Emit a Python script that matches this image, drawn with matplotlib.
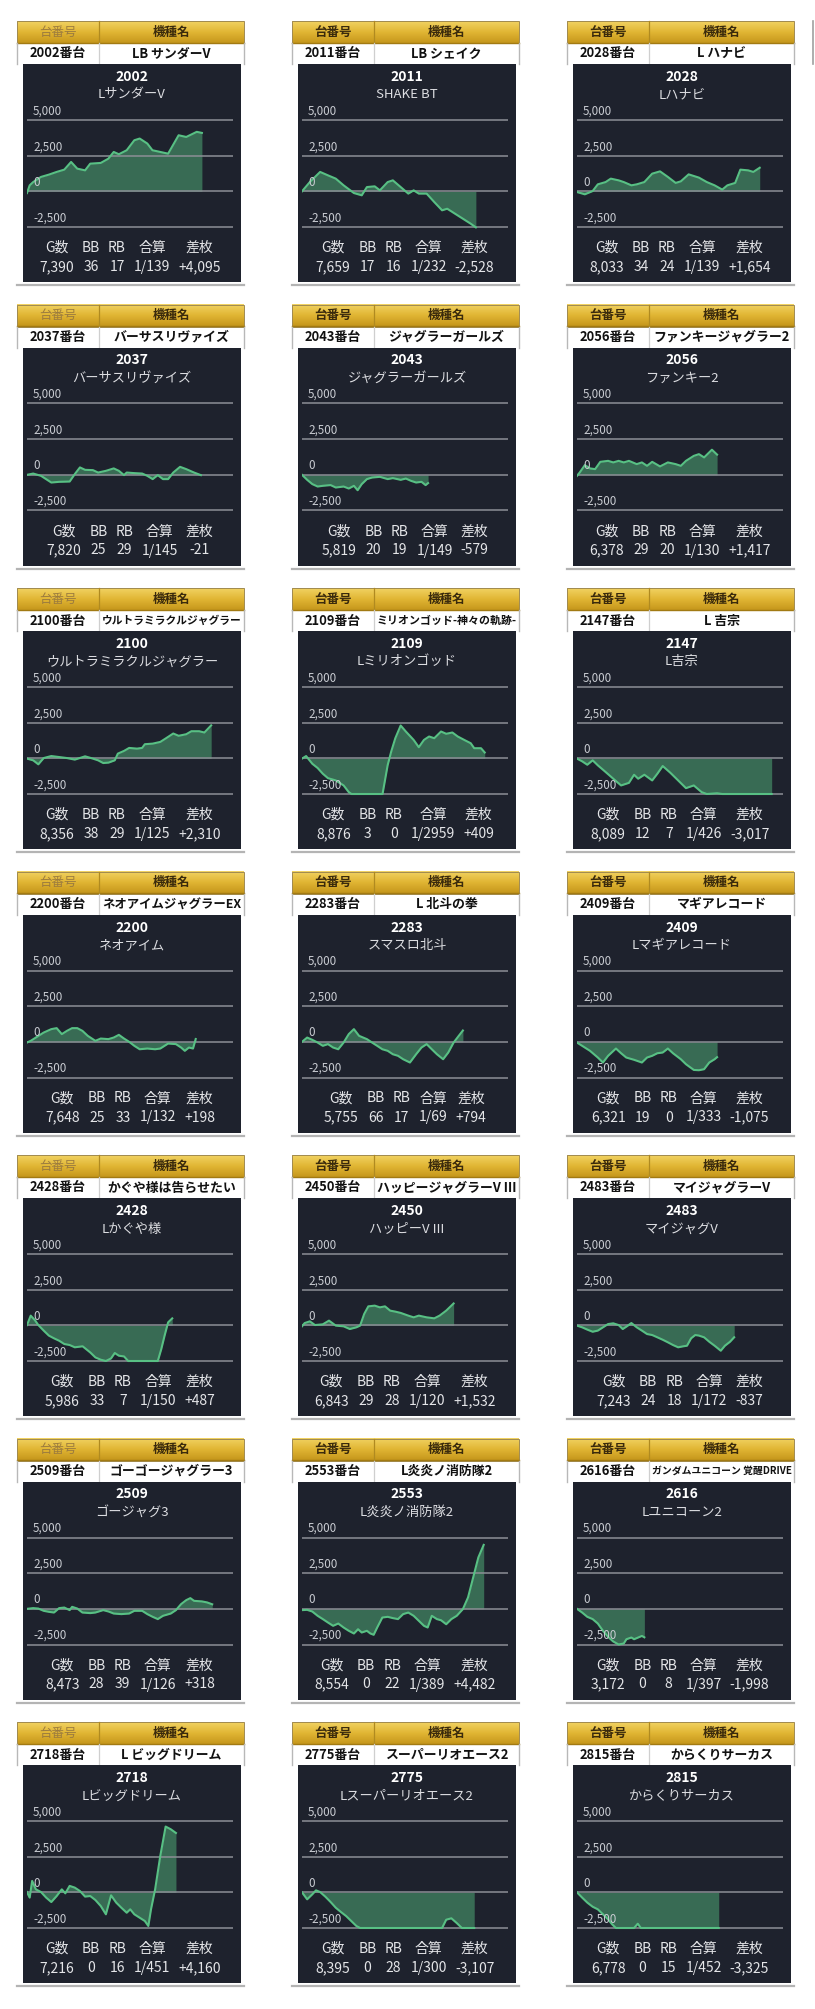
import numpy as np
import matplotlib
matplotlib.use("Agg")
import matplotlib.pyplot as plt
from matplotlib.colors import LinearSegmentedColormap
from matplotlib.patches import Rectangle

plt.rcParams["font.family"] = ["Noto Sans CJK JP", "DejaVu Sans"]

W, H = 815, 2009

# --- panel info -------------------------------------------------------------
numbers = [2002, 2011, 2028, 2037, 2043, 2056, 2100, 2109, 2147, 2200, 2283,
           2409, 2428, 2450, 2483, 2509, 2553, 2616, 2718, 2775, 2815]
header_names = ["LB サンダーV", "LB シェイク", "L ハナビ", "バーサスリヴァイズ",
                "ジャグラーガールズ", "ファンキージャグラー2", "ウルトラミラクルジャグラー",
                "ミリオンゴッド-神々の軌跡-", "L 吉宗", "ネオアイムジャグラーEX",
                "L 北斗の拳", "マギアレコード", "かぐや様は告らせたい",
                "ハッピージャグラーV III", "マイジャグラーV", "ゴーゴージャグラー3",
                "L炎炎ノ消防隊2", "ガンダムユニコーン 覚醒DRIVE", "L ビッグドリーム",
                "スーパーリオエース2", "からくりサーカス"]
chart_names = ["LサンダーV", "SHAKE BT", "Lハナビ", "バーサスリヴァイズ", "ジャグラーガールズ",
               "ファンキー2", "ウルトラミラクルジャグラー", "Lミリオンゴッド", "L吉宗",
               "ネオアイム", "スマスロ北斗", "Lマギアレコード", "Lかぐや様", "ハッピーV III",
               "マイジャグV", "ゴージャグ3", "L炎炎ノ消防隊2", "Lユニコーン2",
               "Lビッグドリーム", "Lスーパーリオエース2", "からくりサーカス"]
g_counts = [7390, 7659, 8033, 7820, 5819, 6378, 8356, 8876, 8089, 7648, 5755,
            6321, 5986, 6843, 7243, 8473, 8554, 3172, 7216, 8395, 6778]
bb_counts = [36, 17, 34, 25, 20, 29, 38, 3, 12, 25, 66, 19, 33, 29, 24, 28, 0, 0, 0, 0, 0]
rb_counts = [17, 16, 24, 29, 19, 20, 29, 0, 7, 33, 17, 0, 7, 28, 18, 39, 22, 8, 16, 28, 15]
gassan = [139, 232, 139, 145, 149, 130, 125, 2959, 426, 132, 69, 333, 150, 120,
          172, 126, 389, 397, 451, 300, 452]
samai = [4095, -2528, 1654, -21, -579, 1417, 2310, 409, -3017, 198, 794, -1075,
         487, 1532, -837, 318, 4482, -1998, 4160, -3107, -3325]

# --- graph series (x: % of the time axis, y: coins) -------------------------
x_2002 = [0, 1.3, 3.0, 6.8, 10.6, 14.4, 18.1, 21.4, 24.4, 28.2, 30.7, 35.8, 39.5,
          42.1, 44.6, 48.4, 52.1, 54.7, 58.4, 60.9, 64.7, 68.5, 73.6, 77.3, 82.4, 84.9]
y_2002 = [-120, 420, 650, 1010, 1170, 1360, 1520, 2060, 1590, 1470, 1940, 1990, 2290,
          2760, 2600, 2880, 3580, 3700, 3350, 2880, 2760, 2640, 3930, 3810, 4170, 4095]
x_2011 = [0, 3.8, 8.8, 12.6, 16.4, 20.2, 25.2, 29.0, 31.5, 35.3, 37.8, 41.6, 44.1,
          47.9, 51.6, 54.2, 56.7, 60.5, 64.2, 68.0, 70.5, 74.3, 78.1, 81.9, 84.4]
y_2011 = [0, 650, 1360, 1120, 890, 420, -120, -280, 300, 350, 70, 650, 770, 300,
          -160, 70, -160, -160, -750, -1330, -1220, -1570, -1920, -2270, -2528]
x_2028 = [0, 3.8, 7.6, 10.1, 13.9, 16.4, 20.2, 22.7, 26.4, 29.0, 32.7, 36.5, 40.3,
          44.1, 47.9, 50.4, 54.2, 59.2, 63.0, 66.8, 70.5, 73.0, 76.8, 79.3, 83.1, 85.6, 88.7]
y_2028 = [-50, -210, 20, 490, 650, 890, 770, 650, 420, 490, 650, 1240, 1400, 1010,
          590, 700, 1190, 960, 650, 420, 120, 420, 590, 1520, 1470, 1360, 1654]
x_2037 = [0, 3.0, 6.8, 11.8, 15.6, 20.7, 23.2, 25.7, 28.2, 32.0, 34.5, 38.3, 42.1,
          44.6, 47.1, 48.4, 52.1, 55.9, 58.4, 61.0, 63.5, 66.0, 68.5, 71.0, 74.3,
          77.3, 81.1, 84.4]
y_2037 = [0, 90, -70, -540, -490, -470, 50, 520, 350, 330, 160, 280, 450, 280, -20,
          160, 120, 90, -70, -300, -20, -300, -300, 160, 560, 400, 160, -21]
x_2043 = [0, 2.5, 5.0, 7.6, 10.1, 13.9, 16.4, 20.2, 22.7, 25.2, 27.0, 29.0, 31.5,
          34.0, 37.8, 41.6, 44.1, 47.9, 50.4, 52.9, 55.4, 58.0, 60.0, 61.2]
y_2043 = [0, -350, -650, -820, -770, -720, -890, -820, -960, -770, -1080, -650, -300,
          -190, -140, -300, -230, -350, -260, -420, -540, -490, -720, -579]
x_2056 = [0, 1.3, 3.8, 6.3, 8.8, 11.3, 15.1, 17.6, 20.2, 22.7, 25.2, 29.0, 31.5,
          34.0, 36.5, 40.3, 44.1, 47.9, 50.4, 52.9, 56.7, 59.2, 61.7, 65.5, 68.0]
y_2056 = [-70, 160, 680, 450, 400, 910, 980, 870, 980, 870, 980, 750, 870, 630, 910,
          590, 870, 750, 630, 980, 1330, 1450, 1220, 1760, 1417]
x_2100 = [0, 3.0, 5.5, 8.1, 11.8, 15.6, 19.4, 23.2, 28.2, 32.0, 34.5, 37.0, 39.6,
          42.6, 44.1, 47.1, 49.6, 53.4, 55.9, 57.2, 61.0, 64.7, 67.3, 71.0, 73.6,
          77.3, 79.8, 83.6, 86.1, 89.4]
y_2100 = [-20, -140, -420, 20, 160, 90, 20, -90, 140, -20, -140, -330, -300, -140,
          330, 520, 730, 680, 730, 990, 1030, 1150, 1390, 1740, 1580, 1690, 1900,
          1900, 1810, 2310]
x_2109 = [0, 2.0, 5.0, 7.6, 10.1, 12.6, 16.4, 20.2, 22.7, 24.0, 39.1, 41.6, 43.3,
          45.3, 47.9, 50.4, 54.2, 56.7, 59.2, 61.7, 64.2, 67.5, 70.0, 73.0, 75.6,
          79.3, 81.9, 83.6, 86.9, 88.7]
y_2109 = [-20, 160, -380, -680, -1080, -1390, -1550, -1900, -2370, -2500, -2500,
          -470, 470, 1410, 2300, 1880, 1290, 780, 1290, 1530, 1410, 1880, 1720, 1810,
          1530, 1250, 1060, 710, 710, 409]
x_2147 = [0, 2.5, 5.0, 7.6, 10.1, 13.9, 17.6, 21.4, 25.2, 27.7, 29.7, 32.7, 36.5,
          39.0, 41.6, 45.3, 49.1, 52.9, 56.7, 60.5, 63.0, 68.0, 70.5, 94.5]
y_2147 = [-20, -210, -450, -140, -490, -960, -1430, -1900, -1720, -1150, -1430,
          -1150, -1550, -1080, -540, -1010, -1550, -2090, -1900, -2370, -2500, -2450,
          -2500, -2500]
x_2200 = [0, 1.8, 4.3, 8.1, 11.8, 14.4, 16.9, 19.4, 21.9, 24.4, 26.9, 29.5, 33.2,
          35.8, 39.5, 42.1, 44.6, 47.1, 49.6, 52.1, 54.7, 58.4, 62.2, 64.7, 68.5,
          72.3, 74.8, 76.6, 78.6, 80.6, 81.9]
y_2200 = [-50, 70, 300, 650, 890, 960, 540, 770, 960, 960, 770, 420, 70, 230, 190,
          300, 490, 230, 0, -280, -520, -470, -520, -470, -120, -160, -400, -630,
          -400, -470, 198]
x_2283 = [0, 2.5, 5.0, 7.6, 10.1, 12.6, 15.1, 17.6, 20.2, 22.7, 25.2, 27.7, 31.5,
          34.0, 36.5, 39.0, 41.6, 44.1, 46.6, 49.1, 52.4, 55.4, 58.0, 60.5, 63.0,
          65.5, 68.5, 71.0, 73.6, 76.1, 78.1]
y_2283 = [0, 300, 140, -50, -280, -160, -400, -520, -50, 540, 890, 420, 190, -50,
          -280, -520, -630, -870, -980, -1220, -1450, -870, -400, -160, -520, -870,
          -1220, -750, -50, 420, 794]
x_2409 = [0, 2.5, 6.3, 10.1, 12.6, 15.1, 18.9, 21.4, 23.9, 27.7, 31.5, 34.0, 36.5,
          39.0, 41.6, 44.1, 46.6, 50.4, 52.9, 56.7, 59.2, 61.7, 64.2, 66.8, 68.0]
y_2409 = [-50, -280, -630, -1100, -1450, -980, -470, -800, -1100, -1260, -1450,
          -1100, -980, -800, -750, -470, -800, -1220, -1570, -1970, -1990, -1920,
          -1450, -1220, -1075]
x_2428 = [0, 1.8, 3.8, 5.5, 8.1, 10.6, 13.1, 15.6, 18.1, 20.7, 23.2, 27.0, 30.7,
          33.2, 35.8, 38.3, 40.8, 42.6, 44.6, 47.1, 49.1, 63.5, 65.2, 66.8, 68.5, 70.5]
y_2428 = [20, 680, 370, 20, -370, -720, -910, -1080, -1310, -1380, -1540, -1470,
          -1900, -2250, -2410, -2500, -2320, -1940, -2130, -2180, -2500, -2500,
          -1660, -720, 210, 487]
x_2450 = [0, 1.3, 3.8, 6.3, 10.1, 13.1, 16.4, 20.2, 23.2, 26.4, 28.2, 30.2, 32.2,
          35.3, 37.8, 40.3, 42.8, 45.3, 47.9, 51.6, 54.2, 56.7, 60.5, 64.2, 66.8,
          70.0, 73.6]
y_2450 = [-70, 160, 280, 20, 70, 330, -20, -70, -260, -140, -20, 800, 1330, 1380,
          1260, 1330, 1030, 960, 870, 680, 560, 680, 560, 490, 680, 1030, 1532]
x_2483 = [0, 2.5, 5.0, 7.6, 10.1, 12.6, 15.1, 17.6, 20.2, 22.2, 24.0, 26.4, 29.0,
          31.5, 34.0, 36.5, 39.0, 41.6, 44.1, 46.6, 49.1, 51.6, 53.4, 55.4, 57.4,
          59.2, 61.7, 64.2, 66.8, 69.8, 71.8, 74.3, 76.3]
y_2483 = [-20, -140, -300, -450, -370, -140, 90, 140, 20, -260, -90, 160, -140, -370,
          -610, -680, -840, -1010, -1190, -1380, -1540, -1470, -1430, -910, -680,
          -720, -840, -1150, -1430, -1780, -1430, -1150, -837]
x_2509 = [0, 3.0, 5.5, 8.1, 10.6, 13.1, 15.6, 18.1, 20.7, 21.9, 24.4, 26.9, 30.7,
          33.2, 37.0, 39.6, 42.1, 45.8, 49.6, 52.1, 55.9, 58.4, 61.0, 63.5, 66.0,
          69.8, 72.3, 74.8, 77.3, 79.3, 81.1, 84.9, 87.4, 89.9]
y_2509 = [0, 50, 20, -140, -210, -260, 50, 90, -90, 140, 20, -260, -300, -260, -90,
          -190, -330, -370, -330, -140, -140, -370, -560, -720, -490, -330, -90, 330,
          610, 750, 560, 520, 450, 318]
x_2553 = [0, 2.5, 5.0, 7.6, 10.1, 12.6, 15.1, 17.6, 20.2, 22.7, 25.2, 27.2, 29.0,
          31.5, 33.2, 34.8, 36.5, 39.0, 41.6, 44.1, 46.6, 49.1, 51.6, 54.2, 56.7,
          59.2, 61.0, 63.0, 65.5, 67.5, 70.0, 72.5, 75.1, 78.1, 80.6, 83.1, 85.6, 88.2]
y_2553 = [-90, -70, -190, -490, -720, -960, -1190, -1030, -1310, -1540, -1730, -1430,
          -1660, -1540, -1730, -1820, -1310, -610, -560, -650, -720, -370, -260, -490,
          -840, -1190, -1310, -490, -720, -800, -1080, -720, -490, -20, 800, 2200,
          3600, 4482]
x_2616 = [0, 2.5, 5.0, 7.6, 10.1, 12.6, 15.1, 17.6, 20.2, 22.7, 24.0, 26.4, 27.7,
          29.7, 31.5, 32.7]
y_2616 = [0, -260, -560, -720, -1030, -1540, -1970, -2290, -2500, -2430, -2130,
          -2010, -2130, -2010, -1900, -1998]
x_2718 = [0, 1.3, 2.5, 4.3, 6.8, 9.3, 11.8, 14.4, 16.9, 18.6, 20.7, 23.2, 25.7,
          28.2, 30.7, 33.2, 35.8, 38.3, 40.8, 43.3, 45.8, 48.4, 50.1, 52.1, 54.7,
          57.2, 58.9, 60.2, 62.2, 64.7, 67.3, 69.8, 72.3]
y_2718 = [20, -370, 800, 210, 20, -370, -680, -260, 210, -70, 450, 330, 90, -300,
          -260, -540, -960, -1540, -210, -720, -1080, -1430, -1190, -1540, -1780,
          -2010, -2360, -1190, 210, 2550, 4610, 4420, 4160]
x_2775 = [0, 2.5, 5.0, 6.8, 8.8, 11.3, 13.9, 16.4, 18.9, 21.4, 23.9, 26.4, 28.2,
          68.0, 70.0, 72.5, 75.1, 77.6, 83.6]
y_2775 = [0, -490, -140, 140, 20, -300, -680, -1080, -1380, -1660, -2010, -2360,
          -2500, -2500, -1920, -1820, -2150, -2500, -2500]
x_2815 = [0, 2.5, 5.0, 7.6, 10.1, 12.6, 15.1, 17.1, 18.9, 27.7, 29.5, 31.0, 68.8]
y_2815 = [0, -370, -720, -1010, -1190, -1540, -1900, -2250, -2500, -2500, -2200,
          -2500, -2500]

series = [(x_2002, y_2002), (x_2011, y_2011), (x_2028, y_2028),
          (x_2037, y_2037), (x_2043, y_2043), (x_2056, y_2056),
          (x_2100, y_2100), (x_2109, y_2109), (x_2147, y_2147),
          (x_2200, y_2200), (x_2283, y_2283), (x_2409, y_2409),
          (x_2428, y_2428), (x_2450, y_2450), (x_2483, y_2483),
          (x_2509, y_2509), (x_2553, y_2553), (x_2616, y_2616),
          (x_2718, y_2718), (x_2775, y_2775), (x_2815, y_2815)]

grid_levels = [5000, 2500, 0, -2500]
grid_labels = ["5,000", "2,500", "0", "-2,500"]
stat_heads = ["G数", "BB", "RB", "合算", "差枚"]

# --- style -----------------------------------------------------------------
panel_bg = "#1e222d"
grid_col = "#8c8f96"
line_col = "#58c084"
fill_col = "#3c7459"
gold = LinearSegmentedColormap.from_list("gold", ["#f1d262", "#e1b634", "#c6971c"])

col_left = [17, 292, 567]
row_top0, row_step = 21, 283.5

fig = plt.figure(figsize=(W / 100, H / 100), dpi=100)
fig.patch.set_facecolor("white")
bg = fig.add_axes([0, 0, 1, 1], zorder=0)
bg.axis("off")
over = fig.add_axes([0, 0, 1, 1], zorder=5)
over.axis("off")
over.patch.set_alpha(0)
renderer = fig.canvas.get_renderer()


def frect(x0, y0, x1, y1):
    return [x0 / W, 1 - y1 / H, (x1 - x0) / W, (y1 - y0) / H]


def fit_text(x, y, s, size, maxw, **kw):
    t = over.text(x, y, s, fontsize=size, ha="center", va="center", **kw)
    w = t.get_window_extent(renderer).width
    if w > maxw:
        t.set_fontsize(size * maxw / w)
    return t


for i in range(len(numbers)):
    r, c = divmod(i, 3)
    L = col_left[c]
    T = row_top0 + r * row_step

    # gold header
    grad = np.linspace(0, 1, 40).reshape(-1, 1)
    bg.imshow(grad, cmap=gold, extent=(L, L + 227, T + 22, T), aspect="auto",
              origin="upper", zorder=1)
    bg.add_patch(Rectangle((L, T), 227, 22, fill=False, ec="#a08a50", lw=0.7, zorder=2))
    bg.plot([L, L + 227], [T + 21.5, T + 21.5], color="#a27a12", lw=1.0, zorder=2)
    bg.plot([L + 82, L + 82], [T, T + 22], color="#b08a20", lw=0.9, zorder=2)
    # white row
    bg.plot([L, L], [T + 22, T + 43], color="#b8b8b8", lw=1.0, zorder=2)
    bg.plot([L + 227, L + 227], [T + 22, T + 43], color="#b8b8b8", lw=1.0, zorder=2)
    bg.plot([L + 82, L + 82], [T + 22, T + 43], color="#cfcfcf", lw=0.9, zorder=2)
    # dark panel and bottom shadow line
    bg.add_patch(Rectangle((L + 6, T + 43), 218, 218, color=panel_bg, lw=0, zorder=2))
    bg.plot([L, L + 227], [T + 264, T + 264], color="#b4b4b4", lw=1.6, zorder=2)

    head_col = "#9b7b3e" if c == 0 else "#3a2a0c"
    over.text(L + 41, T + 11, "台番号", fontsize=9, ha="center", va="center",
              color=head_col, fontweight="normal" if c == 0 else "bold")
    over.text(L + 154.5, T + 11, "機種名", fontsize=9, ha="center", va="center",
              color="#3a2a0c", fontweight="bold")
    over.text(L + 41, T + 32.5, f"{numbers[i]}番台", fontsize=9.3, ha="center",
              va="center", color="#111111", fontweight="bold")
    fit_text(L + 154.5, T + 32.5, header_names[i], 9.3, 139, color="#111111",
             fontweight="bold")

    over.text(L + 115, T + 56, str(numbers[i]), fontsize=10, ha="center", va="center",
              color="white", fontweight="bold")
    fit_text(L + 115, T + 74, chart_names[i], 9.5, 200, color="#dcdde1")

    # chart
    y_top, y_bot = T + 99, T + 206
    pad = 2.0
    ax = fig.add_axes(frect(L + 10, y_top - pad, L + 216, y_bot + pad), zorder=3)
    ax.patch.set_alpha(0)
    ax.axis("off")
    span = 7500 * pad / (y_bot - y_top)
    ax.set_ylim(-2500 - span, 5000 + span)
    ax.set_xlim(0, 100)
    for lv in grid_levels:
        ax.axhline(lv, color=grid_col, lw=1.1, zorder=2)
    xs, ys = series[i]
    ax.fill_between(xs, ys, 0, color=fill_col, alpha=0.9, lw=0, zorder=1)
    ax.plot(xs, ys, color=line_col, lw=1.5, zorder=3, solid_joinstyle="round")

    for lv, lab in zip(grid_levels, grid_labels):
        gy = y_top + (5000 - lv) / 7500 * (y_bot - y_top)
        over.text(L + 16, gy - 2.5, lab, fontsize=8.4, ha="left", va="bottom",
                  color="#c9ccd2")

    # stats table
    vals = [f"{g_counts[i]:,}", str(bb_counts[i]), str(rb_counts[i]),
            f"1/{gassan[i]}", f"{samai[i]:+,}"]
    th, tv, widths = [], [], []
    for h, v in zip(stat_heads, vals):
        a = over.text(0, T + 227, h, fontsize=10, ha="center", va="center",
                      color="#e4e5e8")
        b = over.text(0, T + 246, v, fontsize=10, ha="center", va="center",
                      color="#e4e5e8")
        th.append(a)
        tv.append(b)
        widths.append(max(a.get_window_extent(renderer).width,
                          b.get_window_extent(renderer).width) + 8)
    xpos = L + 113 - sum(widths) / 2
    for a, b, w in zip(th, tv, widths):
        a.set_x(xpos + w / 2)
        b.set_x(xpos + w / 2)
        xpos += w

# cut-off panel edge at the right of the first row
bg.plot([813, 813], [row_top0, row_top0 + 43], color="#a0a0a0", lw=1.2, zorder=2)

for a in (bg, over):
    a.set_xlim(0, W)
    a.set_ylim(H, 0)

fig.savefig("out.png", dpi=100, facecolor="white")
